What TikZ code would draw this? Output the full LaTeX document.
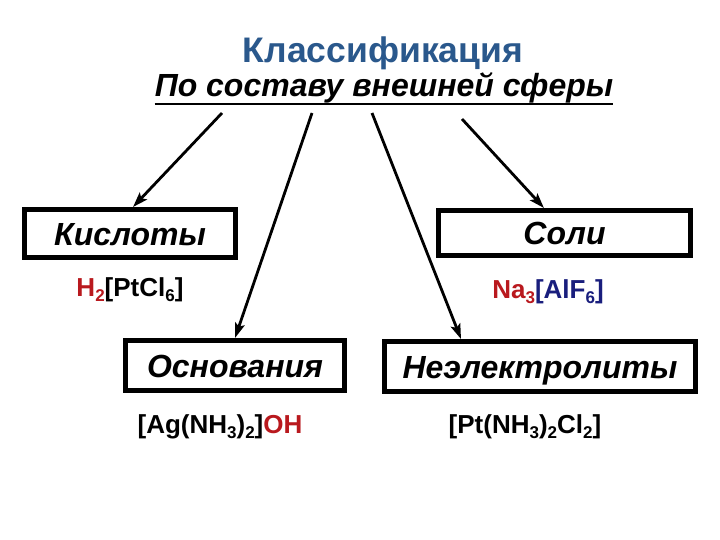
\documentclass[tikz,border=0pt]{standalone}
\usepackage{fontspec}
\setmainfont{Liberation Sans}
\usetikzlibrary{arrows.meta,calc}
\definecolor{titleblue}{RGB}{42,88,140}
\definecolor{chemred}{RGB}{185,25,30}
\definecolor{chemnavy}{RGB}{25,30,125}
\newcommand{\ix}[1]{\raisebox{-5pt}{\fontsize{17}{17}\selectfont #1}}

\begin{document}
\begin{tikzpicture}
    [x=1pt,y=-1pt,
    classbox/.style={draw,line width=5pt,inner sep=0pt,text height=23pt,text depth=0pt,
        font=\fontsize{32}{36}\selectfont\bfseries\itshape},
    formula/.style={inner sep=0pt,anchor=base,font=\fontsize{26}{30}\selectfont\bfseries},
    branch/.style={line width=2.8pt,-{Stealth[length=15pt,width=10pt,inset=3pt]}}]
    \useasboundingbox[fill=white] (0,0) rectangle (720,540);
    %headings
    \node[titleblue,inner sep=0pt,anchor=base,font=\fontsize{35.5}{40}\selectfont\bfseries]
        (title) at (383,63) {Классификация};
    \node[inner sep=0pt,anchor=base,font=\fontsize{32}{36}\selectfont\bfseries\itshape]
        (sub) at (384,97) {По составу внешней сферы};
    \draw[line width=2.5pt] ([yshift=-7pt]sub.base west) -- ([yshift=-7pt]sub.base east);
    %classes
    \node[classbox,minimum width=211pt,minimum height=48pt] (acid) at (130,233.5) {Кислоты};
    \node[classbox,minimum width=252pt,minimum height=45pt] (salt) at (564.5,233) {Соли};
    \node[classbox,minimum width=219pt,minimum height=50pt] (base) at (235,365.5) {Основания};
    \node[classbox,minimum width=311pt,minimum height=50pt] (nonel) at (540,366.5) {Неэлектролиты};
    %examples
    \node[formula] (acidex) at (130,296) {\textcolor{chemred}{H\ix{2}}[PtCl\ix{6}]};
    \node[formula] (saltex) at (548,298) {\textcolor{chemred}{Na\ix{3}}\textcolor{chemnavy}{[AlF\ix{6}]}};
    \node[formula] (baseex) at (220,433) {[Ag(NH\ix{3})\ix{2}]\textcolor{chemred}{OH}};
    \node[formula] (nonelex) at (525,433) {[Pt(NH\ix{3})\ix{2}Cl\ix{2}]};
    %arrows
    \coordinate (o1) at (222,113);
    \coordinate (o2) at (312,113);
    \coordinate (o3) at (372,113);
    \coordinate (o4) at (462,119);
    \draw[branch] (o1) -- ([xshift=3pt]acid.north);
    \draw[branch] (o2) -- (base.north);
    \draw[branch] (o3) -- ($(nonel.north west)!0.25!(nonel.north east)$);
    \draw[branch] (o4) -- ($(salt.north west)!0.42!(salt.north east)$);
\end{tikzpicture}
\end{document}
